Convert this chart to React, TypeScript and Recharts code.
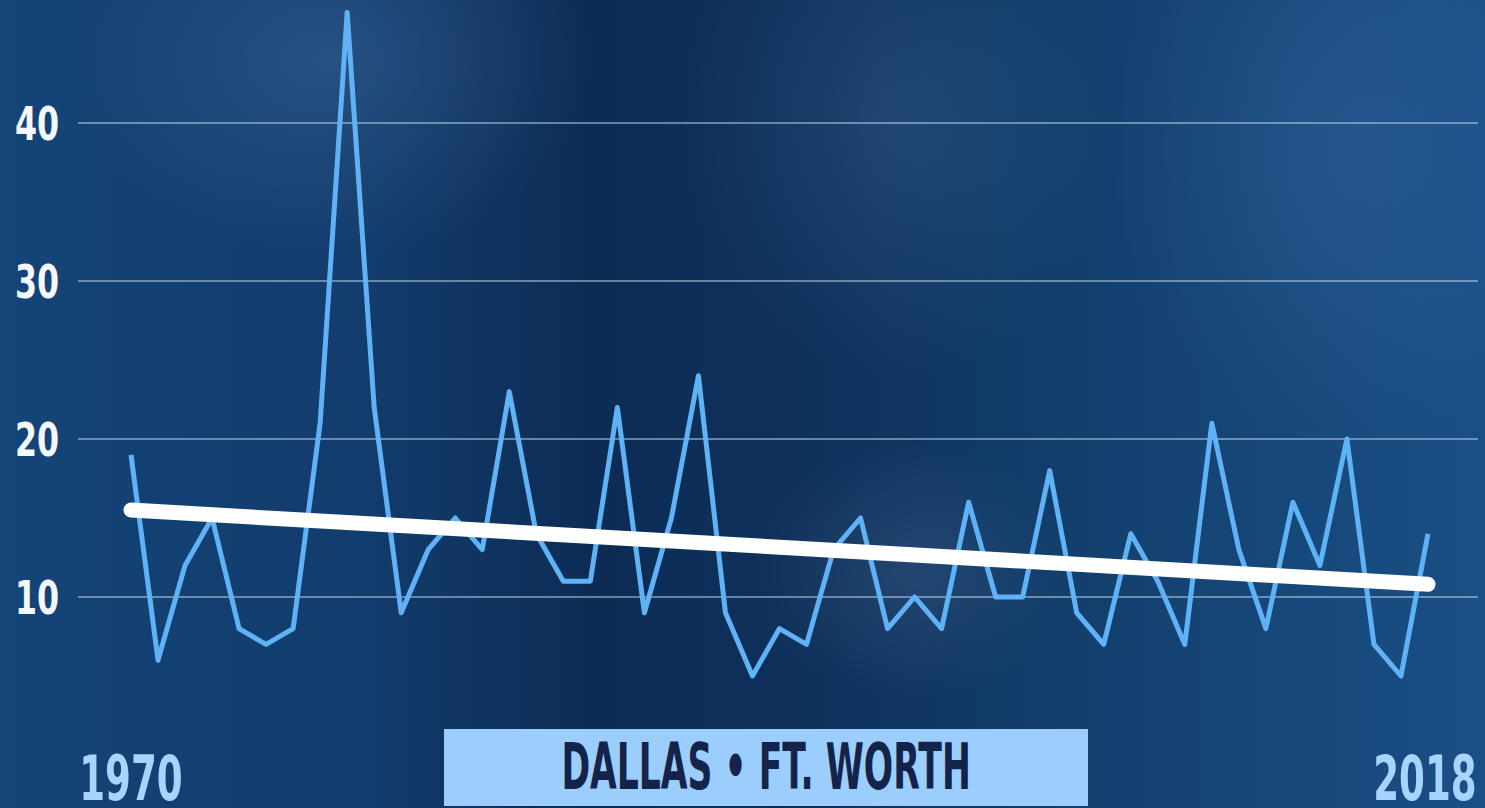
import { LineChart, Line, XAxis, YAxis, CartesianGrid } from "recharts";

const years = [
  1970, 1971, 1972, 1973, 1974, 1975, 1976, 1977, 1978, 1979,
  1980, 1981, 1982, 1983, 1984, 1985, 1986, 1987, 1988, 1989,
  1990, 1991, 1992, 1993, 1994, 1995, 1996, 1997, 1998, 1999,
  2000, 2001, 2002, 2003, 2004, 2005, 2006, 2007, 2008, 2009,
  2010, 2011, 2012, 2013, 2014, 2015, 2016, 2017, 2018,
];

const days = [
  19, 6, 12, 15, 8, 7, 8, 21, 47, 22,
  9, 13, 15, 13, 23, 14, 11, 11, 22, 9,
  15, 24, 9, 5, 8, 7, 13, 15, 8, 10,
  8, 16, 10, 10, 18, 9, 7, 14, 11, 7,
  21, 13, 8, 16, 12, 20, 7, 5, 14,
];

// trend line end values (first year, last year)
const trendEnds = [15.5, 10.8];

const yTicks = [10, 20, 30, 40];
const yearTicks = [1970, 2018];
const title = "DALLAS • FT. WORTH";

const data = years.map((year, i) => ({
  year,
  days: days[i],
  trend: i === 0 ? trendEnds[0] : i === years.length - 1 ? trendEnds[1] : null,
}));

const FONT = "'DejaVu Sans', sans-serif";

// no condensed face installed, so squeeze DejaVu Sans Bold horizontally
const YTick = ({ y, payload }: any) => (
  <text
    transform={`translate(15, ${y + 17}) scale(0.69, 1)`}
    fill="#f4f8fc"
    fontSize={46}
    fontWeight={700}
    fontFamily={FONT}
  >
    {payload.value}
  </text>
);

const XTick = ({ x, payload }: any) => (
  <text
    transform={`translate(${Math.min(x, 1425)}, 800) scale(0.6, 1)`}
    textAnchor="middle"
    fill="#a6d4ff"
    fontSize={62}
    fontWeight={700}
    fontFamily={FONT}
  >
    {payload.value}
  </text>
);

export default function App() {
  return (
    <div
      style={{
        position: "absolute",
        top: 0,
        left: 0,
        width: 1485,
        height: 808,
        overflow: "hidden",
        background:
          "radial-gradient(ellipse 260px 200px at 330px 60px, rgba(70,110,160,0.4), transparent)," +
          "radial-gradient(ellipse 220px 260px at 900px 120px, rgba(70,110,160,0.3), transparent)," +
          "radial-gradient(ellipse 240px 300px at 1350px 150px, rgba(60,110,170,0.35), transparent)," +
          "radial-gradient(ellipse 160px 130px at 910px 570px, rgba(70,100,140,0.35), transparent)," +
          "linear-gradient(90deg, #144478 0%, #123c6c 25%, #0c2c55 40%, #0e315c 55%, #13416f 75%, #1a4f86 100%)",
      }}
    >
      <LineChart
        width={1485}
        height={808}
        data={data}
        margin={{ top: 4.5, right: 7, bottom: 0, left: 0 }}
      >
        <CartesianGrid
          vertical={false}
          horizontalValues={yTicks}
          stroke="rgba(220,230,245,0.45)"
          strokeWidth={2}
        />
        <XAxis
          dataKey="year"
          type="number"
          domain={[1970, 2018]}
          ticks={yearTicks}
          padding={{ left: 53, right: 50 }}
          axisLine={false}
          tickLine={false}
          height={84.6}
          tick={<XTick />}
        />
        <YAxis
          domain={[2, 47.5]}
          ticks={yTicks}
          allowDataOverflow
          axisLine={false}
          tickLine={false}
          width={78}
          tick={<YTick />}
        />
        <Line
          dataKey="days"
          type="linear"
          stroke="#5fb2f5"
          strokeWidth={5}
          strokeLinejoin="round"
          dot={false}
          isAnimationActive={false}
        />
        <Line
          dataKey="trend"
          type="linear"
          stroke="#ffffff"
          strokeWidth={15}
          strokeLinecap="round"
          connectNulls
          dot={false}
          isAnimationActive={false}
        />
      </LineChart>
      <div
        style={{
          position: "absolute",
          left: 444,
          top: 729,
          width: 644,
          height: 77,
          background: "#9ccefd",
          display: "flex",
          alignItems: "center",
          justifyContent: "center",
          overflow: "hidden",
        }}
      >
        <span
          style={{
            color: "#13234a",
            fontFamily: FONT,
            fontWeight: 700,
            fontSize: 64,
            lineHeight: "77px",
            whiteSpace: "nowrap",
            display: "inline-block",
            transform: "scaleX(0.54)",
          }}
        >
          {title}
        </span>
      </div>
    </div>
  );
}
